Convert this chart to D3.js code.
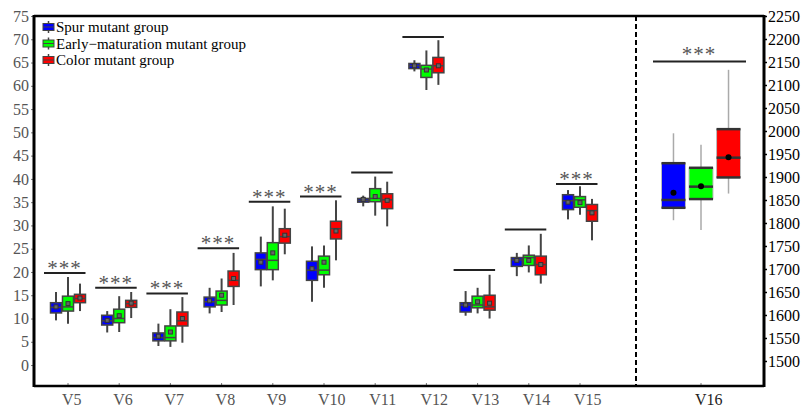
<!DOCTYPE html>
<html><head><meta charset="utf-8">
<script src="https://cdn.jsdelivr.net/npm/d3@7"></script>
<style>html,body{margin:0;padding:0;background:#fff;}svg{display:block;}</style>
</head><body>
<svg id="chart" width="809" height="411"></svg>
<script>
// ---- data ----
const categories = ["V5","V6","V7","V8","V9","V10","V11","V12","V13","V14","V15"];
const rightCategory = "V16";
const seriesNames = ["Spur mutant group","Early\u2212maturation mutant group","Color mutant group"];
const seriesColors = ["#0000ff","#00ff00","#ff0000"];
// [min, q1, median, q3, max, mean]
const spur = [
  [9.6,11.2,12.4,13.4,15.7,12.5],
  [7.0,8.6,9.5,10.7,11.6,9.6],
  [4.1,5.2,5.9,6.9,8.9,6.2],
  [11.1,12.5,13.6,14.6,16.6,13.8],
  [16.9,20.5,22.7,24.1,27.6,22.1],
  [13.6,18.2,20.4,22.3,25.5,20.7],
  [34.1,35.0,35.4,35.8,36.4,35.6],
  [63.1,63.7,64.3,64.8,65.5,64.3],
  [10.6,11.4,12.9,13.4,15.9,12.9],
  [19.1,21.2,22.6,23.1,24.1,22.5],
  [31.3,33.4,35.3,36.6,37.6,35.0]
];
const early = [
  [8.9,11.6,12.5,14.8,18.9,13.2],
  [7.1,9.1,10.0,12.0,14.8,10.6],
  [3.9,5.2,5.9,8.4,12.0,7.1],
  [11.4,12.9,13.9,15.9,18.6,15.0],
  [18.2,20.5,22.5,26.3,34.1,24.1],
  [16.6,19.4,20.4,23.4,25.7,22.1],
  [32.1,35.1,35.8,37.9,40.5,36.2],
  [59.1,61.8,63.6,64.4,67.6,63.4],
  [11.1,12.3,12.9,14.8,16.6,13.6],
  [19.9,21.4,23.1,23.6,25.7,22.5],
  [32.3,33.9,35.5,36.2,38.4,34.9]
];
const color = [
  [11.6,13.4,14.3,15.2,17.5,14.4],
  [10.1,12.4,13.2,13.9,15.7,13.3],
  [4.8,8.4,9.5,11.4,14.6,10.0],
  [12.9,16.9,18.2,20.2,24.1,18.6],
  [23.8,26.2,27.6,29.3,33.6,27.9],
  [22.5,27.1,29.3,30.9,35.4,28.8],
  [29.8,33.6,35.5,36.8,39.4,35.4],
  [60.2,62.8,64.3,66.1,69.8,64.3],
  [10.0,11.8,12.5,15.0,19.4,13.3],
  [17.5,19.4,21.6,23.4,28.2,21.6],
  [26.8,30.9,33.2,34.5,35.7,32.7]
];
const v16Stats = [
  [1806,1833,1850,1930,1995,1866],
  [1785,1852,1879,1920,1970,1880],
  [1864,1899,1942,2004,2133,1943]
];
const sigLabels = ["***","***","***","***","***","***","","","","","***"];
const sigLevels = [19.8,16.6,15.4,25.1,35.1,36.2,41.4,70.5,20.4,29.1,38.9];
const v16SigLabel = "***";
const v16SigLevel = 2151;
const leftTicks = d3.range(0,76,5);
const rightTicks = d3.range(1500,2251,50);

// ---- layout ----
const svg = d3.select("#chart");
const X0 = 34, X1 = 764, Y0 = 16, Y1 = 386, XD = 636;
const serif = "'Liberation Serif','Times New Roman',serif";

const yL = d3.scaleLinear().domain([-4.5,75]).range([Y1,Y0]);
const yR = d3.scaleLinear().domain([1445.6,2250]).range([Y1,Y0]);
const x = d3.scalePoint().domain(categories).range([68,580]);
const xs = d3.scaleBand().domain([0,1,2]).range([-17.5,17.5]).paddingInner(0.08);
const x16 = 701;
const xs16 = d3.scaleBand().domain([0,1,2]).range([-39.5,39.5]).paddingInner(0.13);

const allSeries = [spur, early, color];

// axes
const gL = svg.append("g").attr("transform",`translate(${X0},0)`)
  .call(d3.axisLeft(yL).tickValues(leftTicks).tickSize(3).tickPadding(2));
gL.select(".domain").remove();
gL.selectAll(".tick line").attr("stroke","#777");
gL.selectAll("text").attr("font-family",serif).attr("font-size",16).attr("fill","#555");

const gR = svg.append("g").attr("transform",`translate(${X1},0)`)
  .call(d3.axisRight(yR).tickValues(rightTicks).tickFormat(d3.format("d")).tickSize(3).tickPadding(1));
gR.select(".domain").remove();
gR.selectAll(".tick line").attr("stroke","#000").attr("stroke-width",1.5);
gR.selectAll("text").attr("font-family",serif).attr("font-size",16).attr("fill","#000");

// bottom ticks (inward)
const allCenters = categories.map(c=>x(c)).concat([x16]);
svg.append("g").selectAll("line").data(allCenters).join("line")
  .attr("x1",d=>d).attr("x2",d=>d).attr("y1",Y1).attr("y2",Y1-3)
  .attr("stroke","#777").attr("stroke-width",1);
// bottom labels
svg.append("g").selectAll("text").data(categories.concat([rightCategory])).join("text")
  .attr("x",(d,i)=>allCenters[i]-6).attr("y",405)
  .attr("font-family",serif).attr("font-size",16)
  .attr("fill",d=>d===rightCategory?"#222":"#555")
  .text(d=>d);

// frame
svg.append("line").attr("x1",X0).attr("x2",X1).attr("y1",Y0).attr("y2",Y0).attr("stroke","#000").attr("stroke-width",2.5);
svg.append("line").attr("x1",X0).attr("x2",X1).attr("y1",Y1).attr("y2",Y1).attr("stroke","#000").attr("stroke-width",2.5);
svg.append("line").attr("x1",X0).attr("x2",X0).attr("y1",Y0-1).attr("y2",Y1+1).attr("stroke","#000").attr("stroke-width",3);
svg.append("line").attr("x1",X1).attr("x2",X1).attr("y1",Y0-1).attr("y2",Y1+1).attr("stroke","#000").attr("stroke-width",3);
svg.append("line").attr("x1",XD).attr("x2",XD).attr("y1",Y0).attr("y2",Y1).attr("stroke","#000").attr("stroke-width",2).attr("stroke-dasharray","5,3");

// left boxes
const gB = svg.append("g");
categories.forEach((c,ci)=>{
  allSeries.forEach((s,si)=>{
    const [mn,q1,md,q3,mx,mean] = s[ci];
    const cx = x(c) + xs(si) + xs.bandwidth()/2;
    const bw = xs.bandwidth();
    gB.append("line").attr("x1",cx).attr("x2",cx).attr("y1",yL(mx)).attr("y2",yL(mn))
      .attr("stroke","#444").attr("stroke-width",2);
    gB.append("rect").attr("x",cx-bw/2).attr("width",bw)
      .attr("y",yL(q3)).attr("height",Math.max(1,yL(q1)-yL(q3)))
      .attr("fill",seriesColors[si]).attr("stroke","#444").attr("stroke-width",1.5);
    gB.append("line").attr("x1",cx-bw/2).attr("x2",cx+bw/2).attr("y1",yL(md)).attr("y2",yL(md))
      .attr("stroke","#444").attr("stroke-width",1.5);
    gB.append("rect").attr("x",cx-2).attr("y",yL(mean)-2).attr("width",4).attr("height",4)
      .attr("fill","#666").attr("stroke","#333").attr("stroke-width",1);
  });
  // significance
  const gx = x(c);
  svg.append("line").attr("x1",gx-24).attr("x2",gx+17.5).attr("y1",yL(sigLevels[ci])).attr("y2",yL(sigLevels[ci]))
    .attr("stroke","#222").attr("stroke-width",2);
  if (sigLabels[ci]) {
    svg.append("text").attr("x",gx-3.5).attr("y",yL(sigLevels[ci])+2)
      .attr("text-anchor","middle").attr("font-family",serif).attr("font-size",21)
      .attr("letter-spacing",1).attr("fill","#555").text(sigLabels[ci]);
  }
});

// V16 boxes
v16Stats.forEach((st,si)=>{
  const [mn,q1,md,q3,mx,mean] = st;
  const cx = x16 + xs16(si) + xs16.bandwidth()/2;
  const bw = xs16.bandwidth();
  svg.append("line").attr("x1",cx).attr("x2",cx).attr("y1",yR(mx)).attr("y2",yR(mn))
    .attr("stroke","#aaa").attr("stroke-width",1.5);
  svg.append("rect").attr("x",cx-bw/2).attr("width",bw).attr("y",yR(q3)).attr("height",yR(q1)-yR(q3))
    .attr("fill",seriesColors[si]).attr("stroke","#bbb").attr("stroke-width",1);
  [q3,q1,md].forEach(v=>{
    svg.append("line").attr("x1",cx-bw/2).attr("x2",cx+bw/2).attr("y1",yR(v)).attr("y2",yR(v))
      .attr("stroke","#333").attr("stroke-width",2.5);
  });
  svg.append("circle").attr("cx",cx).attr("cy",yR(mean)).attr("r",3).attr("fill","#000");
});
svg.append("line").attr("x1",x16-48).attr("x2",x16+45).attr("y1",yR(v16SigLevel)).attr("y2",yR(v16SigLevel))
  .attr("stroke","#222").attr("stroke-width",2);
svg.append("text").attr("x",x16-2).attr("y",yR(v16SigLevel)-1)
  .attr("text-anchor","middle").attr("font-family",serif).attr("font-size",21)
  .attr("letter-spacing",1).attr("fill","#555").text(v16SigLabel);

// legend
const lg = svg.append("g");
seriesNames.forEach((n,i)=>{
  const ly = 27 + i*16.5;
  lg.append("line").attr("x1",48.5).attr("x2",48.5).attr("y1",ly-6).attr("y2",ly+6).attr("stroke","#444").attr("stroke-width",1.5);
  lg.append("rect").attr("x",43).attr("y",ly-3.5).attr("width",11).attr("height",7)
    .attr("fill",seriesColors[i]).attr("stroke","#444").attr("stroke-width",1);
  lg.append("line").attr("x1",43).attr("x2",54).attr("y1",ly).attr("y2",ly).attr("stroke","#444").attr("stroke-width",1);
  lg.append("text").attr("x",56).attr("y",ly+5).attr("font-family",serif).attr("font-size",15)
    .attr("fill","#000").text(n);
});
</script>
</body></html>
